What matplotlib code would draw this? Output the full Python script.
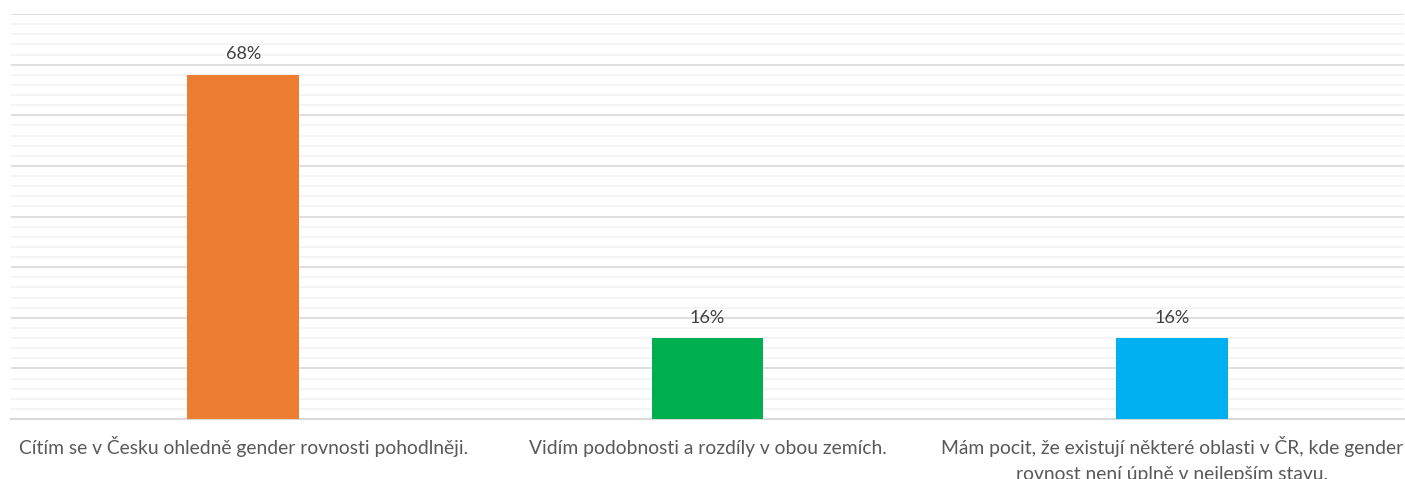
import matplotlib
matplotlib.use("Agg")
import matplotlib.pyplot as plt
from matplotlib.ticker import MultipleLocator

categories = [
    "Cítím se v Česku ohledně gender rovnosti pohodlněji.",
    "Vidím podobnosti a rozdíly v obou zemích.",
    "Mám pocit, že existují některé oblasti v ČR, kde gender\nrovnost není úplně v nejlepším stavu.",
]
values = [68, 16, 16]
colors = ["#ED7D31", "#00B050", "#00B0F0"]

plt.rcParams["font.family"] = ["Lato", "DejaVu Sans"]

fig = plt.figure(figsize=(14.05, 4.79), dpi=100)
ax = fig.add_axes([11 / 1405, 60 / 479, 1393 / 1405, 405 / 479])

x = list(range(len(categories)))
bars = ax.bar(x, values, width=0.24, color=colors, zorder=3)
for b, v in zip(bars, values):
    ax.annotate(f"{v}%", (b.get_x() + b.get_width() / 2, v),
                xytext=(0, 11), textcoords="offset points",
                ha="center", va="baseline", fontsize=13, color="#404040")

ax.set_xlim(-0.5, len(categories) - 0.5)
ax.set_ylim(0, 80)
ax.yaxis.set_major_locator(MultipleLocator(10))
ax.yaxis.set_minor_locator(MultipleLocator(2))
ax.grid(axis="y", which="major", color="#d9d9d9", linewidth=1.2, zorder=0)
ax.grid(axis="y", which="minor", color="#f2f2f2", linewidth=1.2, zorder=0)
ax.tick_params(axis="both", which="both", length=0,
               labelleft=False, labelbottom=False)
ax.set_xticks(x)

# category labels, each line baseline-aligned below the axis
first_baseline = -25.5
line_step = 18.7
for xi, label in zip(x, categories):
    for i, line in enumerate(label.split("\n")):
        ax.annotate(line, (xi, 0), xycoords=("data", "axes fraction"),
                    xytext=(0, first_baseline - i * line_step),
                    textcoords="offset points", ha="center", va="baseline",
                    fontsize=13.9, color="#595959", annotation_clip=False)

for s in ["top", "left", "right"]:
    ax.spines[s].set_visible(False)
ax.spines["bottom"].set_color("#d9d9d9")
ax.spines["bottom"].set_linewidth(1.5)

fig.savefig("out.png", dpi=100)
